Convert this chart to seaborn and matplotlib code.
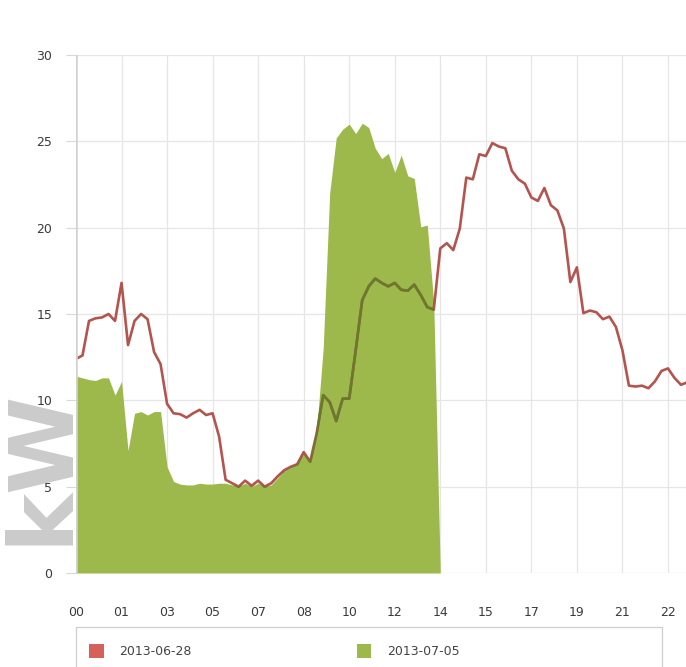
import matplotlib
matplotlib.use("Agg")
import matplotlib.pyplot as plt
import matplotlib.patches as mpatches
import numpy as np
import pandas as pd
import seaborn as sns

# 15-minute load readings (kW)
load_0628 = [12.4, 12.6, 14.6, 14.75, 14.8, 15.0, 14.6, 16.8, 13.2, 14.6,
             15.0, 14.7, 12.8, 12.1, 9.8, 9.25, 9.2, 9.0, 9.25, 9.45,
             9.15, 9.25, 7.9, 5.4, 5.2, 5.0, 5.35, 5.05, 5.35, 5.0,
             5.2, 5.6, 5.95, 6.15, 6.3, 7.0, 6.45, 8.1, 10.3, 9.9,
             8.8, 10.1, 10.1, 12.9, 15.8, 16.6, 17.05, 16.8, 16.6, 16.8,
             16.4, 16.35, 16.7, 16.1, 15.4, 15.25, 18.8, 19.1, 18.7, 19.95,
             22.9, 22.8, 24.25, 24.15, 24.9, 24.7, 24.6, 23.3, 22.8, 22.55,
             21.75, 21.55, 22.3, 21.3, 21.0, 19.95, 16.85, 17.7, 15.05, 15.2,
             15.1, 14.7, 14.85, 14.25, 12.9, 10.85, 10.8, 10.85, 10.7, 11.1,
             11.7, 11.85, 11.3, 10.9, 11.05]

load_0705 = [11.4, 11.3, 11.2, 11.15, 11.3, 11.3, 10.3, 11.1, 7.1, 9.25,
             9.35, 9.15, 9.35, 9.35, 6.15, 5.3, 5.15, 5.1, 5.1, 5.2,
             5.15, 5.15, 5.2, 5.2, 5.1, 5.0, 5.2, 5.0, 5.2, 5.0,
             5.1, 5.5, 5.9, 6.1, 6.3, 6.9, 6.5, 8.3, 13.0, 22.0,
             25.2, 25.7, 26.0, 25.45, 26.05, 25.8, 24.6, 24.0, 24.3, 23.2,
             24.2, 23.0, 22.85, 20.05, 20.15, 15.6, 0.0]

tick_labels = ["00", "01", "03", "05", "07", "08", "10", "12",
               "14", "15", "17", "19", "21", "22"]
y_ticks = [0, 5, 10, 15, 20, 25, 30]
series_names = ["2013-06-28", "2013-07-05"]

red = "#b4544e"
red_legend = "#d6605a"
green = "#9db84b"
olive = "#6a7a2c"

df_a = pd.DataFrame({"slot": np.arange(len(load_0628)), "kw": load_0628})
df_b = pd.DataFrame({"slot": np.arange(len(load_0705)), "kw": load_0705})

sns.set_style("white")
plt.rcParams["font.family"] = ["DejaVu Sans"]

W, H = 686, 667
fig = plt.figure(figsize=(W / 100, H / 100), dpi=100)
left_px, right_px, top_px, bottom_px = 76, 686, 55, 573
ax = fig.add_axes([left_px / W, 1 - bottom_px / H,
                   (right_px - left_px) / W, (bottom_px - top_px) / H])

step_px = 6.505
ax.set_xlim(0, (right_px - left_px) / step_px)
ax.set_ylim(0, 30)

# grid
ax.set_axisbelow(True)
tick_pos = np.arange(len(tick_labels)) * 7
for x in tick_pos[1:]:
    ax.axvline(x, color="#e6e6e6", lw=0.9, zorder=0)
for y in y_ticks:
    ax.axhline(y, color="#e6e6e6", lw=0.9, zorder=0)

# 2013-07-05 area
poly = ax.fill_between(df_b["slot"], 0, df_b["kw"], color=green, lw=0, zorder=2)

# 2013-06-28 line, darkened where it crosses the area
sns.lineplot(data=df_a, x="slot", y="kw", color=red, lw=1.9, ax=ax, zorder=3)
over, = ax.plot(df_a["slot"], df_a["kw"], color=olive, lw=1.9, zorder=4)
over.set_clip_path(poly.get_paths()[0], ax.transData)

# left axis bar
ax.axvline(0, color="#d2d2d2", lw=2.6, zorder=5)

for s in ax.spines.values():
    s.set_visible(False)

ax.set_xticks(tick_pos)
ax.set_xticklabels(tick_labels)
ax.set_yticks(y_ticks)
ax.set_yticklabels([str(v) for v in y_ticks])
ax.tick_params(axis="x", length=0, pad=24, labelsize=9, labelcolor="#3a3a3a")
ax.tick_params(axis="y", length=7, width=0.8, color="#d8d8d8", pad=10,
               labelsize=9, labelcolor="#3a3a3a", left=True)
ax.set_xlabel("")
ax.set_ylabel("")

# unit label
fig.text(42 / W, 1 - 466 / H, "kW", rotation=90, ha="center", va="center",
         fontsize=64, fontweight="bold", color="#cbcbcb", zorder=-1)

# legend frame and entries
frame = mpatches.Rectangle((left_px / W, -0.05), (662 - left_px) / W,
                           1 - 627 / H + 0.05, transform=fig.transFigure,
                           facecolor="white", edgecolor="#cfcfcf", lw=0.9,
                           zorder=1)
fig.add_artist(frame)
handles = [mpatches.Patch(facecolor=red_legend, edgecolor="none"),
           mpatches.Patch(facecolor=green, edgecolor="none")]
leg = fig.legend(handles, series_names, loc="center left",
                 bbox_to_anchor=(78 / W, 1 - 651 / H), ncol=2, frameon=False,
                 handlelength=1.15, handleheight=1.45, handletextpad=1.28,
                 columnspacing=13.2, fontsize=9, labelcolor="#444444")
leg.set_zorder(2)

fig.savefig("out.png", dpi=100)
